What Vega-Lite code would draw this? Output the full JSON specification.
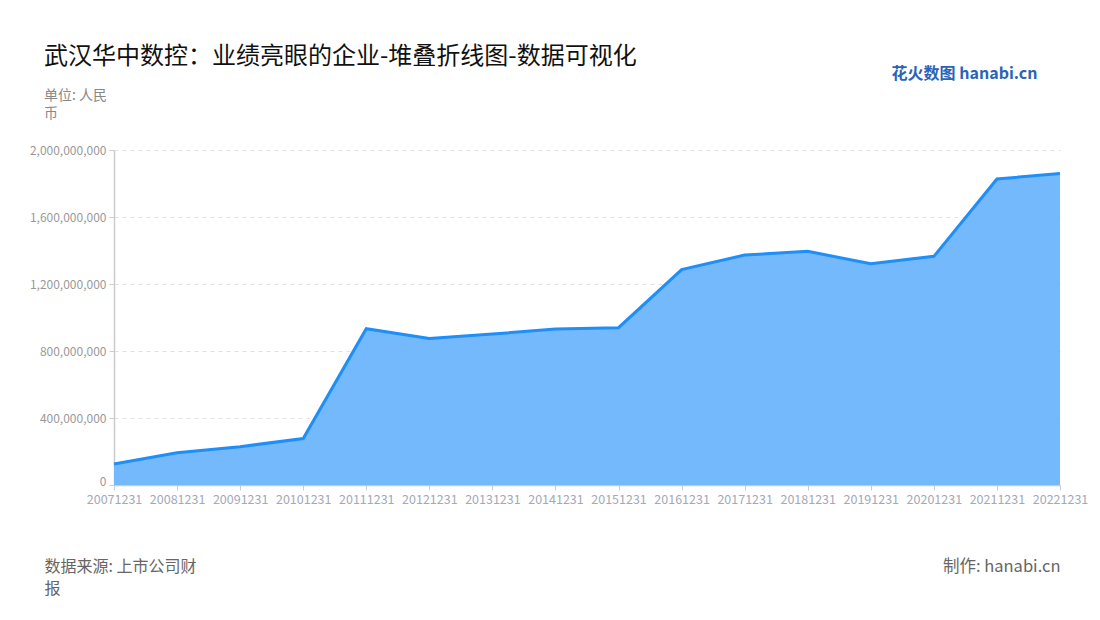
{
  "$schema": "https://vega.github.io/schema/vega-lite/v6.json",
  "width": 946,
  "height": 335,
  "autosize": {"type": "none"},
  "padding": {"left": 114, "top": 150, "right": 40, "bottom": 135},
  "background": "#ffffff",
  "config": {
    "font": "Noto Sans CJK SC",
    "view": {"stroke": null}
  },
  "title": {
    "text": "武汉华中数控：业绩亮眼的企业-堆叠折线图-数据可视化",
    "subtitle": ["单位: 人民", "币"],
    "anchor": "start",
    "frame": "group",
    "dx": -70,
    "offset": -56,
    "fontSize": 24,
    "fontWeight": "normal",
    "color": "#111111",
    "subtitleFontSize": 14,
    "subtitleColor": "#888888",
    "subtitleLineHeight": 18,
    "subtitlePadding": 20
  },
  "data": {
    "values": [
      {"date": "20071231", "value": 125000000},
      {"date": "20081231", "value": 193000000},
      {"date": "20091231", "value": 229000000},
      {"date": "20101231", "value": 277000000},
      {"date": "20111231", "value": 933000000},
      {"date": "20121231", "value": 874000000},
      {"date": "20131231", "value": 901000000},
      {"date": "20141231", "value": 931000000},
      {"date": "20151231", "value": 939000000},
      {"date": "20161231", "value": 1286000000},
      {"date": "20171231", "value": 1373000000},
      {"date": "20181231", "value": 1395000000},
      {"date": "20191231", "value": 1321000000},
      {"date": "20201231", "value": 1365000000},
      {"date": "20211231", "value": 1827000000},
      {"date": "20221231", "value": 1859000000}
    ]
  },
  "layer": [
    {
      "mark": {"type": "area", "color": "#74b9fc", "opacity": 1},
      "encoding": {
        "x": {
          "field": "date",
          "type": "ordinal",
          "scale": {"type": "point", "padding": 0},
          "axis": {
            "labelAngle": 0,
            "labelOverlap": false,
            "labelFontSize": 12.5,
            "labelColor": "#a3a9b8",
            "labelPadding": 3,
            "domainColor": "#cccccc",
            "domainWidth": 1.5,
            "tickColor": "#cccccc",
            "tickSize": 5,
            "grid": false,
            "title": ["数据来源: 上市公司财", "报"],
            "titleFontSize": 16,
            "titleFontWeight": "normal",
            "titleColor": "#666666",
            "titleAnchor": "start",
            "titleAlign": "left",
            "titleBaseline": "top",
            "titleLineHeight": 22,
            "titleX": -70,
            "titleY": 73
          }
        },
        "y": {
          "field": "value",
          "type": "quantitative",
          "scale": {"domain": [0, 2000000000], "nice": false},
          "axis": {
            "values": [0, 400000000, 800000000, 1200000000, 1600000000, 2000000000],
            "format": ",.0f",
            "labelFontSize": 12,
            "labelColor": "#999999",
            "labelPadding": 3,
            "labelOffset": {"condition": {"test": "datum.value === 0", "value": -4}, "value": 0},
            "domainColor": "#cccccc",
            "domainWidth": 1.5,
            "tickColor": "#cccccc",
            "tickSize": 5,
            "grid": true,
            "gridColor": "#e3e3e3",
            "gridDash": [4, 4],
            "gridWidth": 1,
            "title": "制作: hanabi.cn",
            "titleAngle": 0,
            "titleFontSize": 16.5,
            "titleFontWeight": "normal",
            "titleColor": "#666666",
            "titleAlign": "right",
            "titleBaseline": "top",
            "titleX": 946,
            "titleY": 408
          }
        }
      }
    },
    {
      "mark": {"type": "line", "color": "#1e8ffa", "strokeWidth": 3},
      "encoding": {
        "x": {"field": "date", "type": "ordinal", "scale": {"type": "point", "padding": 0}},
        "y": {
          "field": "value",
          "type": "quantitative",
          "scale": {"domain": [0, 2000000000], "nice": false},
          "axis": {
            "orient": "right",
            "labels": false,
            "ticks": false,
            "domain": false,
            "grid": false,
            "title": "花火数图 hanabi.cn",
            "titleAngle": 0,
            "titleFontSize": 16,
            "titleFontWeight": "bold",
            "titleColor": "#2a63b8",
            "titleAlign": "right",
            "titleBaseline": "middle",
            "titleX": -23,
            "titleY": -77
          }
        }
      }
    }
  ],
  "resolve": {"scale": {"y": "independent"}}
}
